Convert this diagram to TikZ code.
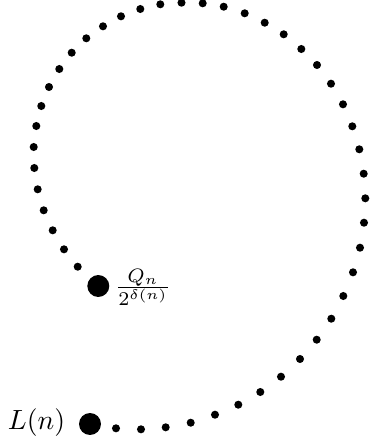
\documentclass[tikz,border=0pt]{standalone}
\begin{document}
\begin{tikzpicture}[x=0.36pt,y=-0.36pt,
  sdot/.style={circle,fill=black,inner sep=0pt,minimum size=2.9pt},
  bdot/.style={circle,fill=black,inner sep=0pt,minimum size=7.9pt},
  lbl/.style={inner sep=0pt}]
\useasboundingbox (0,0) rectangle (372,446);
\node[bdot] (L) at (90,424) {};
\node[bdot] (Q) at (98.3,286) {};
\node[lbl] (Lt) at (36.5,423) {$L(n)$};
\node[lbl] (Qt) at (143,287) {$\frac{Q_n}{2^{\delta(n)}}$};
\foreach \p [count=\i] in {
 (116,428.3),(141,429.3),(165.7,427.3),(190.7,422.7),(215,414.7),(238.3,404.7),
 (260.3,392),(281,376.7),(300,359),(316.7,339.7),(331.3,318.7),(343.3,296),
 (353,272.3),(360,247.7),(364,222.7),(365.3,198.3),(363.7,173.7),(359.3,149.3),
 (352.3,126.3),(343,104.3),(331,83.7),(317,65),(301.3,49),(283.7,34.3),
 (264.7,22.7),(244.7,13.3),(223.7,6.7),(202.7,3.3),(181.5,2.7),(160.3,4.3),
 (140.3,9),(121,16.3),(103,26.3),(86.3,38.3),(71.7,52.7),(59.3,69),(49,87),
 (41.3,106),(36.3,126),(33.7,147),(34.3,168),(37.7,189.3),(43.7,210.3),
 (52.7,230.3),(64,249.3),(77.7,266.7)}
  \node[sdot] (d\i) at \p {};
\end{tikzpicture}
\end{document}
